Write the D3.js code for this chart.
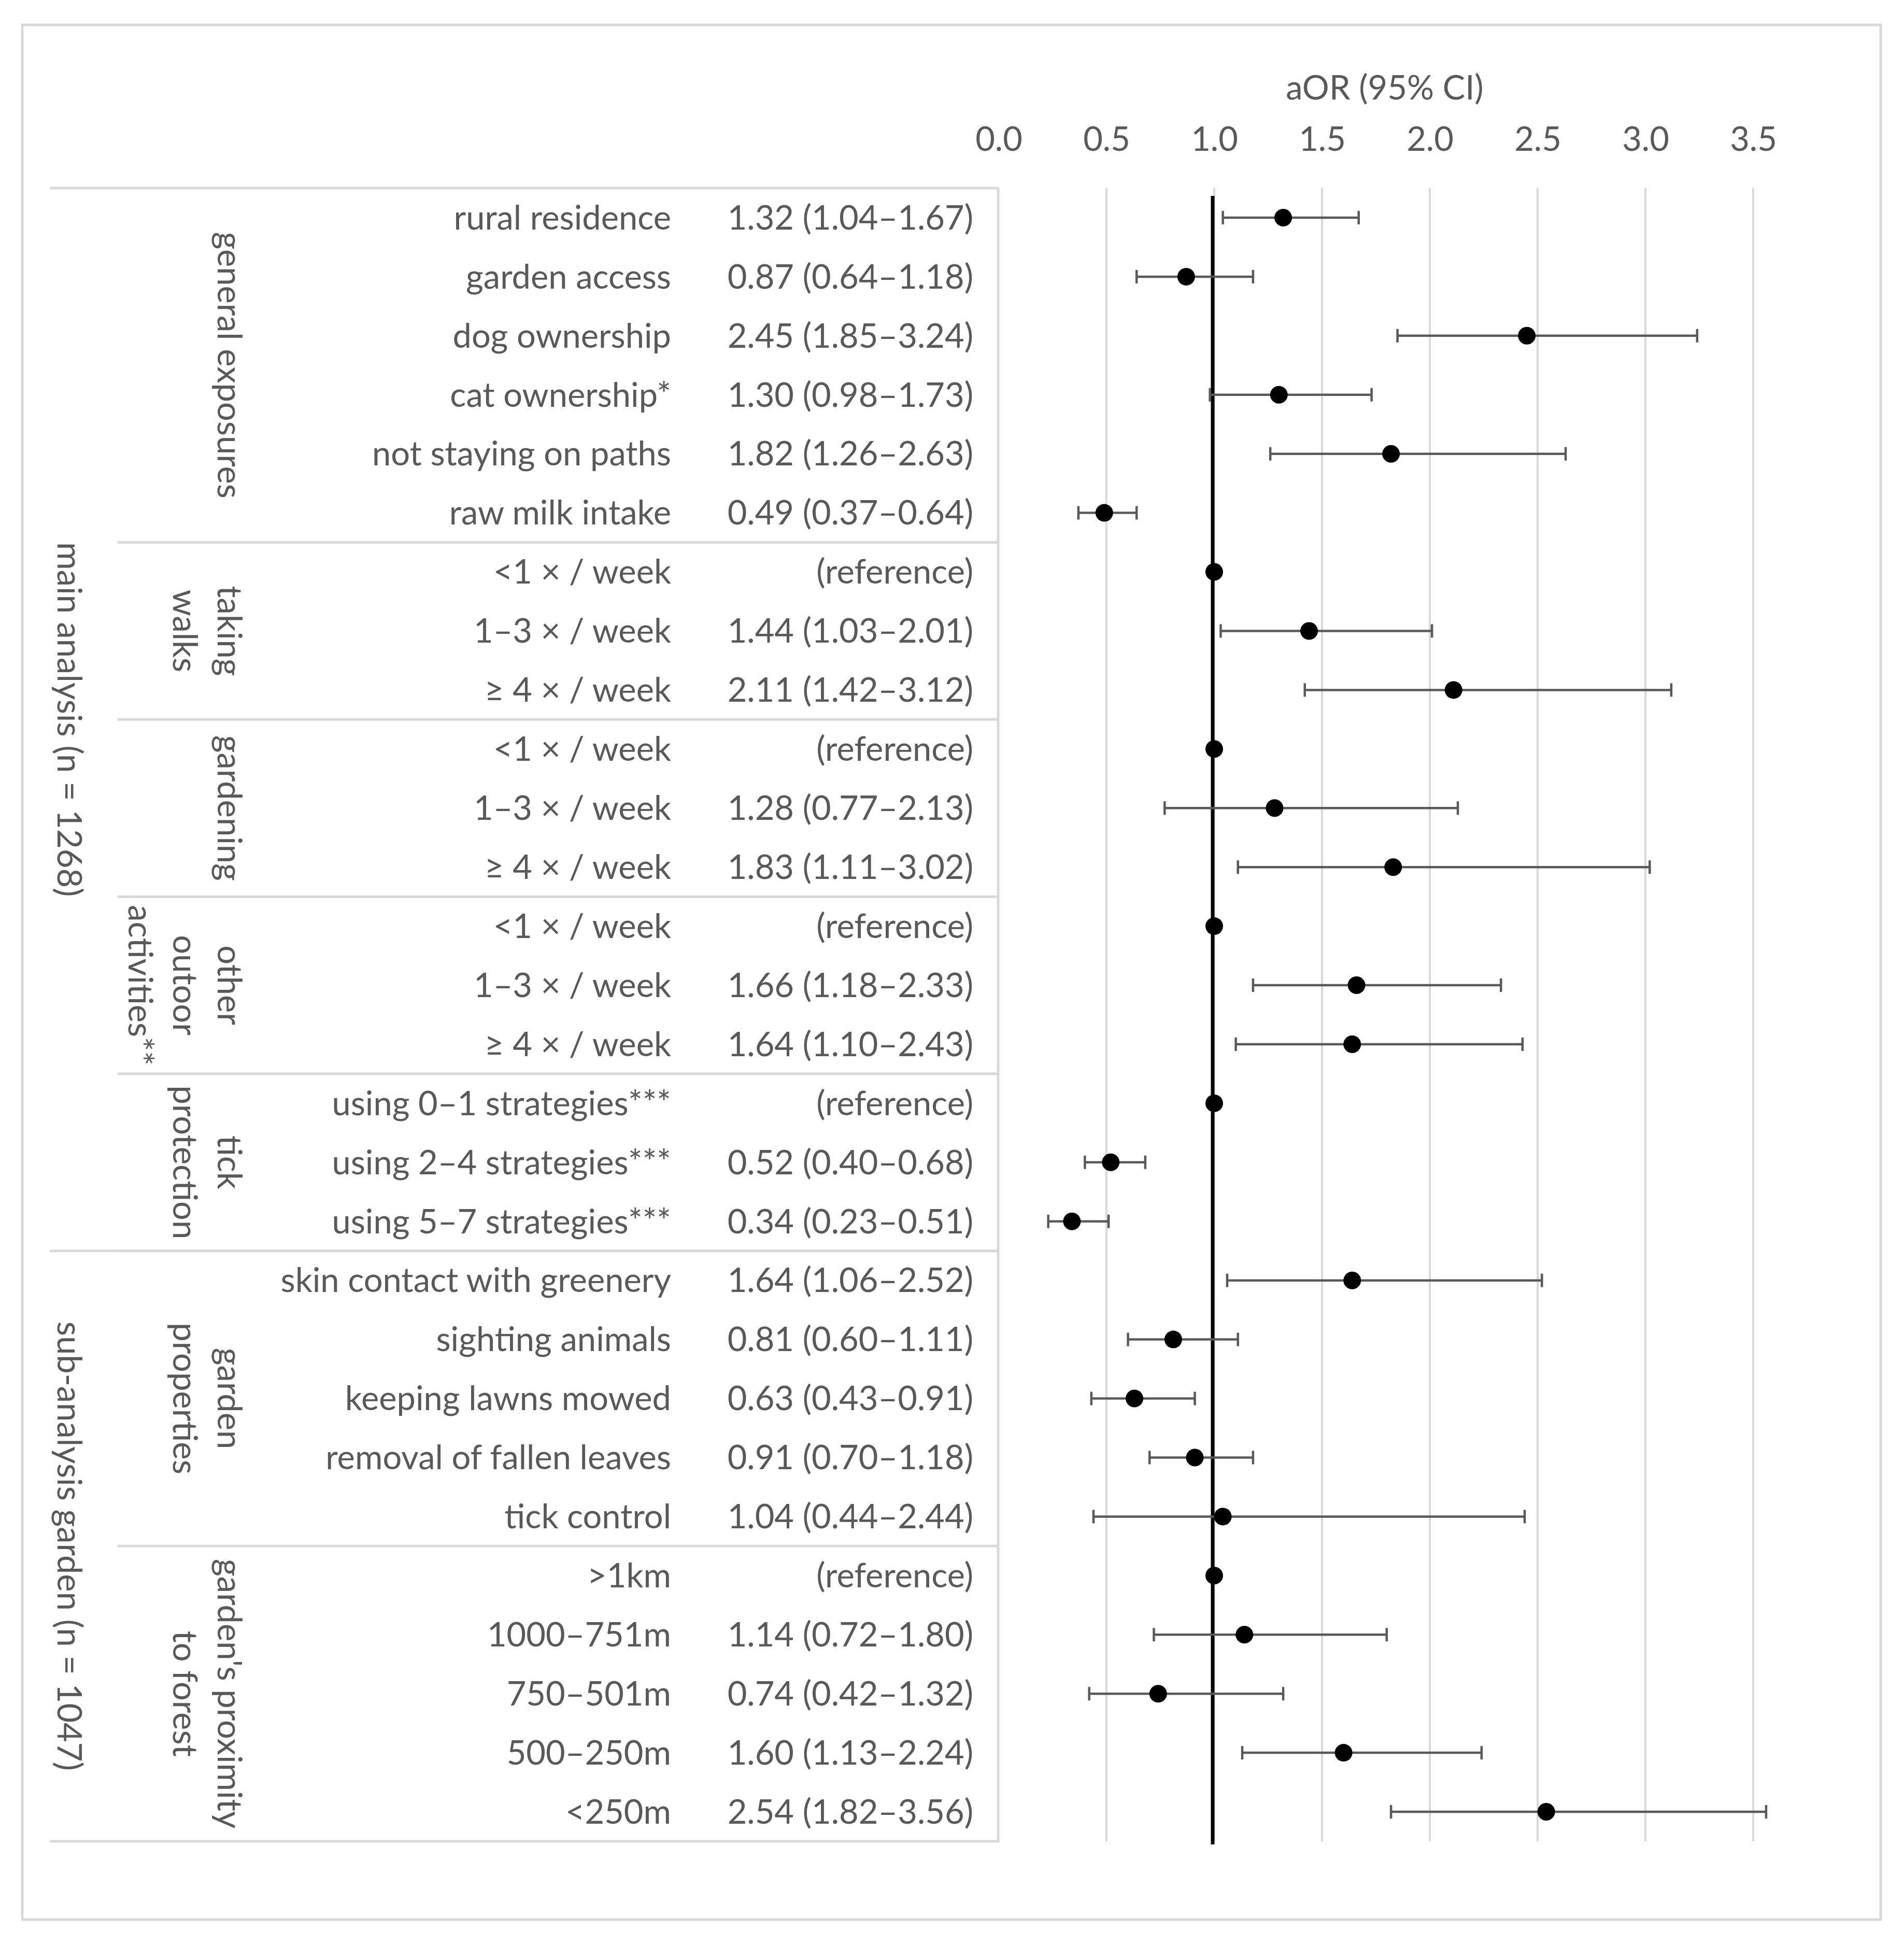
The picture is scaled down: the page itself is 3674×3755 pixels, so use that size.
<!DOCTYPE html>
<html>
<head>
<meta charset="utf-8">
<script src="https://cdn.jsdelivr.net/npm/d3@7"></script>
<style>
  body { margin: 0; background: #fff; }
  text { font-family: Lato, "Open Sans", sans-serif; fill: #595959; }
</style>
</head>
<body>
<div id="chart"></div>
<script>
// rows, top to bottom
const labels = [
  "rural residence", "garden access", "dog ownership", "cat ownership*",
  "not staying on paths", "raw milk intake",
  "<1 × / week", "1–3 × / week", "≥ 4 × / week",
  "<1 × / week", "1–3 × / week", "≥ 4 × / week",
  "<1 × / week", "1–3 × / week", "≥ 4 × / week",
  "using 0–1 strategies***", "using 2–4 strategies***", "using 5–7 strategies***",
  "skin contact with greenery", "sighting animals", "keeping lawns mowed",
  "removal of fallen leaves", "tick control",
  ">1km", "1000–751m", "750–501m", "500–250m", "<250m"
];
// null = reference category
const aor = [1.32, 0.87, 2.45, 1.30, 1.82, 0.49, 1, 1.44, 2.11, 1, 1.28, 1.83, 1, 1.66, 1.64,
  1, 0.52, 0.34, 1.64, 0.81, 0.63, 0.91, 1.04, 1, 1.14, 0.74, 1.60, 2.54];
const lower = [1.04, 0.64, 1.85, 0.98, 1.26, 0.37, null, 1.03, 1.42, null, 0.77, 1.11, null, 1.18, 1.10,
  null, 0.40, 0.23, 1.06, 0.60, 0.43, 0.70, 0.44, null, 0.72, 0.42, 1.13, 1.82];
const upper = [1.67, 1.18, 3.24, 1.73, 2.63, 0.64, null, 2.01, 3.12, null, 2.13, 3.02, null, 2.33, 2.43,
  null, 0.68, 0.51, 2.52, 1.11, 0.91, 1.18, 2.44, null, 1.80, 1.32, 2.24, 3.56];

// groups: [first row, last row, text lines]
const groups = [
  [0, 5, ["general exposures"]],
  [6, 8, ["taking", "walks"]],
  [9, 11, ["gardening"]],
  [12, 14, ["other", "outoor", "activities**"]],
  [15, 17, ["tick", "protection"]],
  [18, 22, ["garden", "properties"]],
  [23, 27, ["garden's proximity", "to forest"]]
];
const analyses = [
  [0, 17, "main analysis (n = 1268)"],
  [18, 27, "sub-analysis garden (n = 1047)"]
];
const ticks = [0, 0.5, 1, 1.5, 2, 2.5, 3, 3.5];

const W = 3674, H = 3755;
const grey = "#d9d9d9", dark = "#595959";
const fs = 65;

const svg = d3.select("#chart").append("svg")
  .attr("width", W).attr("height", H);

svg.append("rect")
  .attr("x", 43).attr("y", 48).attr("width", 3586).attr("height", 3656)
  .attr("fill", "#fff").attr("stroke", grey).attr("stroke-width", 5);

const x = d3.scaleLinear().domain([0, 3.5]).range([1927, 3383]);
const y = d3.scaleBand().domain(d3.range(labels.length)).range([363, 3553]);
const yc = i => y(i) + y.bandwidth() / 2;
const yTop = y(0), yBot = y(labels.length - 1) + y.bandwidth();

// gridlines
svg.append("g").selectAll("line").data(ticks.filter(d => d > 0)).join("line")
  .attr("x1", d => x(d)).attr("x2", d => x(d))
  .attr("y1", yTop).attr("y2", yBot)
  .attr("stroke", grey).attr("stroke-width", 4);

// axis on top
const ax = svg.append("g").attr("transform", "translate(0,291)")
  .call(d3.axisTop(x).tickValues(ticks).tickFormat(d3.format(".1f")).tickSize(0).tickPadding(0));
ax.select(".domain").remove();
ax.selectAll("text").attr("font-size", fs).attr("fill", dark)
  .style("font-family", "Lato, sans-serif");

svg.append("text").attr("x", 2672).attr("y", 169).attr("dy", "0.35em")
  .attr("text-anchor", "middle").attr("font-size", fs).text("aOR (95% CI)");

// table lines
const tbl = svg.append("g").attr("stroke", grey).attr("stroke-width", 5);
tbl.append("line").attr("x1", 96).attr("x2", 1926).attr("y1", yTop).attr("y2", yTop);
tbl.append("line").attr("x1", 1926).attr("x2", 1926).attr("y1", yTop - 2).attr("y2", yBot + 2);
tbl.selectAll(".g2").data(groups.slice(1)).join("line")
  .attr("x1", 227).attr("x2", 1926)
  .attr("y1", d => y(d[0])).attr("y2", d => y(d[0]));
tbl.selectAll(".g1").data(analyses).join("line")
  .attr("x1", 96).attr("x2", 1926)
  .attr("y1", d => y(d[1]) + y.bandwidth()).attr("y2", d => y(d[1]) + y.bandwidth());

// row labels and values
const rows = svg.append("g").attr("font-size", fs);
rows.selectAll(".lab").data(labels).join("text")
  .attr("x", 1295).attr("y", (d, i) => yc(i)).attr("dy", "0.35em")
  .attr("text-anchor", "end").text(d => d);
rows.selectAll(".val").data(aor).join("text")
  .attr("x", 1878).attr("y", (d, i) => yc(i)).attr("dy", "0.35em")
  .attr("text-anchor", "end")
  .text((d, i) => lower[i] == null ? "(reference)"
    : `${d.toFixed(2)} (${lower[i].toFixed(2)}–${upper[i].toFixed(2)})`);

// rotated group labels
groups.forEach(g => {
  const cy = (y(g[0]) + y(g[1]) + y.bandwidth()) / 2;
  const t = svg.append("text").attr("font-size", fs).attr("text-anchor", "middle")
    .attr("transform", `translate(443,${cy}) rotate(90)`);
  g[2].forEach((s, k) => t.append("tspan").attr("x", 0).attr("y", k * 86).attr("dy", "0.35em").text(s));
});
analyses.forEach(a => {
  const cy = (y(a[0]) + y(a[1]) + y.bandwidth()) / 2;
  svg.append("text").attr("font-size", fs).attr("text-anchor", "middle")
    .attr("transform", `translate(134,${cy}) rotate(90)`)
    .attr("dy", "0.35em").text(a[2]);
});

// reference line at 1
svg.append("line").attr("x1", x(1) - 3).attr("x2", x(1) - 3).attr("y1", yTop + 15).attr("y2", yBot + 6)
  .attr("stroke", "#000").attr("stroke-width", 7);

// error bars
const ci = d3.range(labels.length).filter(i => lower[i] != null);
const eb = svg.append("g").attr("stroke", dark).attr("stroke-width", 4.5);
eb.selectAll(".bar").data(ci).join("line")
  .attr("x1", i => x(lower[i])).attr("x2", i => x(upper[i]))
  .attr("y1", yc).attr("y2", yc);
eb.selectAll(".lo").data(ci).join("line")
  .attr("x1", i => x(lower[i])).attr("x2", i => x(lower[i]))
  .attr("y1", i => yc(i) - 13).attr("y2", i => yc(i) + 13);
eb.selectAll(".hi").data(ci).join("line")
  .attr("x1", i => x(upper[i])).attr("x2", i => x(upper[i]))
  .attr("y1", i => yc(i) - 13).attr("y2", i => yc(i) + 13);

// points
svg.append("g").selectAll("circle").data(aor).join("circle")
  .attr("cx", d => x(d)).attr("cy", (d, i) => yc(i)).attr("r", 17).attr("fill", "#000");
</script>
</body>
</html>
